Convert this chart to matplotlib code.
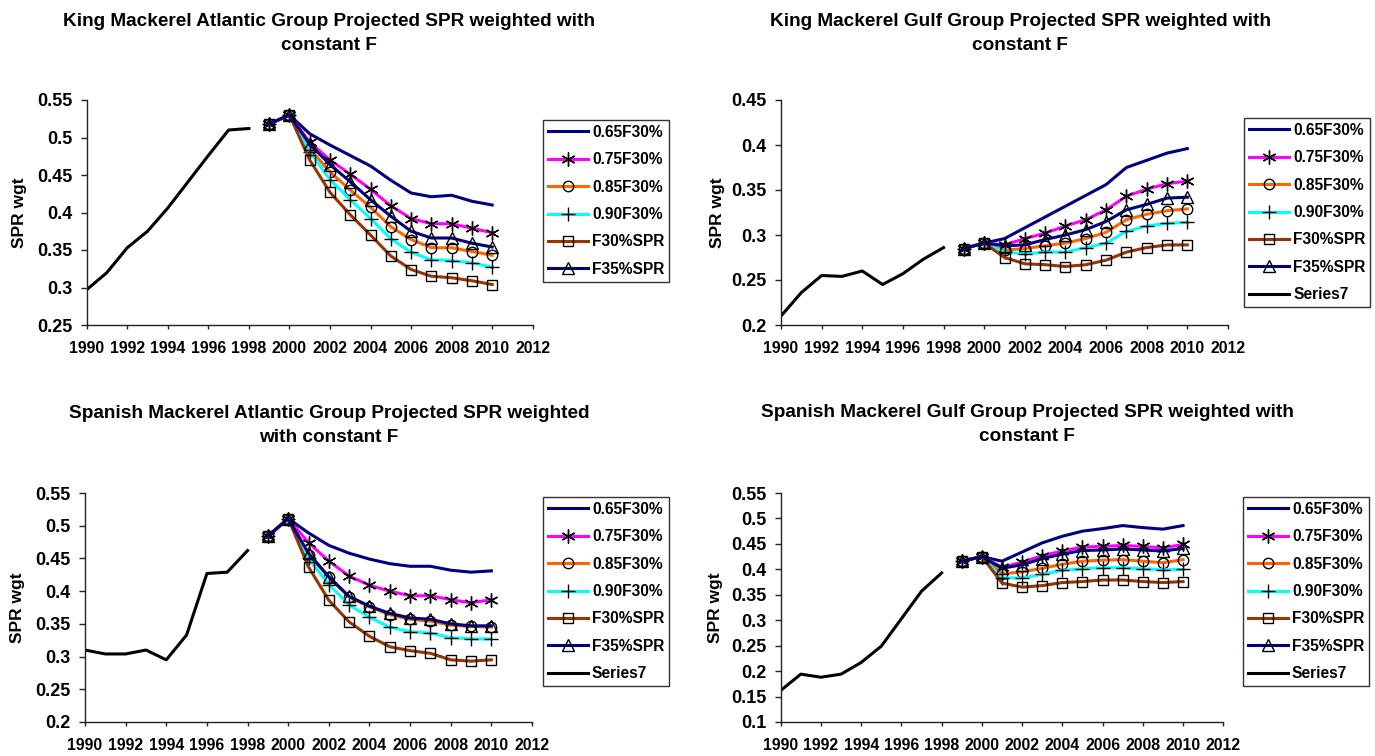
import matplotlib
matplotlib.use("Agg")
import matplotlib.pyplot as plt

plt.rcParams['font.family'] = ['Liberation Sans', 'DejaVu Sans']
plt.rcParams['font.weight'] = 'bold'

hist_years = [1990, 1991, 1992, 1993, 1994, 1995, 1996, 1997, 1998]
proj_years = [1999, 2000, 2001, 2002, 2003, 2004, 2005, 2006, 2007, 2008, 2009, 2010]

series_names = ["0.65F30%", "0.75F30%", "0.85F30%", "0.90F30%", "F30%SPR", "F35%SPR"]
hist_name = "Series7"

# King Mackerel Atlantic
ka_hist = [0.297, 0.320, 0.353, 0.375, 0.406, 0.441, 0.476, 0.510, 0.512]
ka_065 = [0.518, 0.530, 0.505, 0.490, 0.476, 0.462, 0.443, 0.426, 0.421, 0.423, 0.415, 0.410]
ka_075 = [0.518, 0.530, 0.494, 0.470, 0.451, 0.431, 0.409, 0.392, 0.385, 0.385, 0.379, 0.373]
ka_085 = [0.518, 0.530, 0.485, 0.454, 0.430, 0.407, 0.381, 0.364, 0.353, 0.353, 0.348, 0.343]
ka_090 = [0.518, 0.530, 0.481, 0.444, 0.417, 0.392, 0.365, 0.347, 0.337, 0.336, 0.333, 0.327]
ka_f30 = [0.518, 0.530, 0.470, 0.427, 0.397, 0.370, 0.342, 0.324, 0.315, 0.313, 0.309, 0.304]
ka_f35 = [0.518, 0.530, 0.491, 0.464, 0.441, 0.417, 0.395, 0.375, 0.366, 0.366, 0.359, 0.354]

# King Mackerel Gulf
kg_hist = [0.210, 0.236, 0.255, 0.254, 0.260, 0.245, 0.257, 0.273, 0.286]
kg_065 = [0.285, 0.291, 0.296, 0.308, 0.320, 0.332, 0.344, 0.356, 0.375, 0.383, 0.391, 0.396]
kg_075 = [0.285, 0.291, 0.289, 0.296, 0.302, 0.310, 0.317, 0.328, 0.343, 0.351, 0.357, 0.360]
kg_085 = [0.285, 0.291, 0.283, 0.285, 0.288, 0.291, 0.296, 0.303, 0.317, 0.323, 0.327, 0.329]
kg_090 = [0.285, 0.291, 0.281, 0.279, 0.281, 0.281, 0.286, 0.291, 0.304, 0.310, 0.313, 0.314]
kg_f30 = [0.285, 0.291, 0.275, 0.268, 0.267, 0.265, 0.267, 0.272, 0.281, 0.286, 0.289, 0.289]
kg_f35 = [0.285, 0.291, 0.288, 0.289, 0.295, 0.300, 0.306, 0.315, 0.328, 0.334, 0.341, 0.342]

# Spanish Mackerel Atlantic
sa_hist = [0.310, 0.304, 0.304, 0.310, 0.295, 0.333, 0.427, 0.429, 0.462]
sa_065 = [0.484, 0.511, 0.489, 0.470, 0.458, 0.449, 0.442, 0.438, 0.438, 0.432, 0.429, 0.431]
sa_075 = [0.484, 0.511, 0.474, 0.446, 0.423, 0.409, 0.400, 0.393, 0.393, 0.387, 0.382, 0.387]
sa_085 = [0.484, 0.511, 0.456, 0.421, 0.391, 0.376, 0.364, 0.357, 0.354, 0.348, 0.346, 0.345]
sa_090 = [0.484, 0.511, 0.450, 0.410, 0.379, 0.360, 0.345, 0.338, 0.336, 0.329, 0.327, 0.327]
sa_f30 = [0.484, 0.511, 0.437, 0.386, 0.353, 0.331, 0.315, 0.309, 0.305, 0.295, 0.293, 0.295]
sa_f35 = [0.484, 0.511, 0.458, 0.422, 0.392, 0.377, 0.366, 0.359, 0.357, 0.350, 0.347, 0.347]

# Spanish Mackerel Gulf
sg_hist = [0.162, 0.194, 0.188, 0.194, 0.217, 0.249, 0.303, 0.357, 0.393]
sg_065 = [0.416, 0.425, 0.416, 0.434, 0.452, 0.465, 0.475, 0.480, 0.486, 0.482, 0.479, 0.486]
sg_075 = [0.416, 0.425, 0.404, 0.414, 0.427, 0.436, 0.444, 0.445, 0.447, 0.445, 0.442, 0.449]
sg_085 = [0.416, 0.425, 0.391, 0.395, 0.402, 0.410, 0.416, 0.418, 0.419, 0.416, 0.413, 0.419]
sg_090 = [0.416, 0.425, 0.383, 0.383, 0.390, 0.398, 0.401, 0.403, 0.403, 0.401, 0.399, 0.400]
sg_f30 = [0.416, 0.425, 0.373, 0.365, 0.368, 0.374, 0.376, 0.379, 0.379, 0.376, 0.374, 0.376]
sg_f35 = [0.416, 0.425, 0.402, 0.409, 0.421, 0.430, 0.437, 0.438, 0.440, 0.438, 0.436, 0.441]

titles = [
    "King Mackerel Atlantic Group Projected SPR weighted with\nconstant F",
    "King Mackerel Gulf Group Projected SPR weighted with\nconstant F",
    "Spanish Mackerel Atlantic Group Projected SPR weighted\nwith constant F",
    "Spanish Mackerel Gulf Group Projected SPR weighted with\nconstant F",
]
ylims = [(0.25, 0.55), (0.2, 0.45), (0.2, 0.55), (0.1, 0.55)]
yticklabels_list = [
    ["0.25", "0.3", "0.35", "0.4", "0.45", "0.5", "0.55"],
    ["0.2", "0.25", "0.3", "0.35", "0.4", "0.45"],
    ["0.2", "0.25", "0.3", "0.35", "0.4", "0.45", "0.5", "0.55"],
    ["0.1", "0.15", "0.2", "0.25", "0.3", "0.35", "0.4", "0.45", "0.5", "0.55"],
]
xticks = list(range(1990, 2013, 2))

colors = ["#000080", "#FF00FF", "#FF6600", "#00FFFF", "#993300", "#000080"]
markers = [None, (6, 2, 0), "o", "+", "s", "^"]
msizes = [0, 10, 7.5, 10, 6.5, 8]

panels = [
    (ka_hist, [ka_065, ka_075, ka_085, ka_090, ka_f30, ka_f35], False),
    (kg_hist, [kg_065, kg_075, kg_085, kg_090, kg_f30, kg_f35], True),
    (sa_hist, [sa_065, sa_075, sa_085, sa_090, sa_f30, sa_f35], True),
    (sg_hist, [sg_065, sg_075, sg_085, sg_090, sg_f30, sg_f35], True),
]

W, H = 1375, 756
fig = plt.figure(figsize=(W / 100, H / 100), dpi=100)

# pixel boxes: left, right, top, bottom
axboxes = [(86.7, 532.7, 100, 325), (781, 1228, 100, 325),
           (85, 532, 493, 722), (780.7, 1223.3, 493, 722)]
legboxes = [(543, 120), (1244, 118), (543, 497), (1243, 497)]
title_pos = [(329, 13), (1020, 13), (329, 405), (1027, 404)]
ylabel_x = [27, 725, 25, 723]

for i, (hist, projs, show_hist) in enumerate(panels):
    l, r, t, b = axboxes[i]
    ax = fig.add_axes([l / W, 1 - b / H, (r - l) / W, (b - t) / H])
    handles = []
    for j, vals in enumerate(projs):
        kw = dict(color=colors[j], lw=2.2, label=series_names[j])
        if markers[j] is not None:
            kw.update(marker=markers[j], markersize=msizes[j], markeredgecolor="black",
                      markerfacecolor="none", markeredgewidth=1.0)
        ln, = ax.plot(proj_years, vals, **kw)
        handles.append(ln)
    lh, = ax.plot(hist_years, hist, color="black", lw=2.2, label=hist_name)
    if show_hist:
        handles.append(lh)
    ax.set_xlim(1990, 2012)
    ax.set_ylim(*ylims[i])
    ax.set_xticks(xticks)
    ax.set_xticklabels([str(x) for x in xticks], fontsize=11.4, fontweight="bold")
    lo = ylims[i][0]
    yt = [round(lo + 0.05 * k, 2) for k in range(len(yticklabels_list[i]))]
    ax.set_yticks(yt)
    ax.set_yticklabels(yticklabels_list[i], fontsize=13.0, fontweight="bold")
    for s in ["top", "right"]:
        ax.spines[s].set_visible(False)
    for s in ["left", "bottom"]:
        ax.spines[s].set_linewidth(1.0)
        ax.spines[s].set_color("#222222")
    ax.tick_params(axis="y", direction="out", length=4, width=1.0, colors="#222222", pad=6.5)
    ax.tick_params(axis="x", direction="out", length=3, width=1.0, colors="#222222", pad=8.5)
    ax.tick_params(axis="both", labelcolor="black")
    ax.set_ylabel("SPR wgt", fontsize=12.5, fontweight="bold")
    ax.yaxis.set_label_coords((ylabel_x[i] - l) / (r - l), 0.5)

    lx, ly = legboxes[i]
    leg = fig.legend(handles=handles, loc="upper left",
                     bbox_to_anchor=(lx / W, 1 - ly / H),
                     prop={"weight": "bold", "size": 11.2},
                     frameon=True, fancybox=False, shadow=False,
                     handlelength=2.6, handletextpad=0.25, labelspacing=0.8,
                     borderpad=0.3, borderaxespad=0.0)
    leg.get_frame().set_edgecolor("black")
    leg.get_frame().set_linewidth(1.0)

    tx, ty = title_pos[i]
    fig.text(tx / W, 1 - ty / H, titles[i], ha="center", va="top",
             fontsize=13.7, fontweight="bold", linespacing=1.55)

fig.savefig("out.png", dpi=100)
